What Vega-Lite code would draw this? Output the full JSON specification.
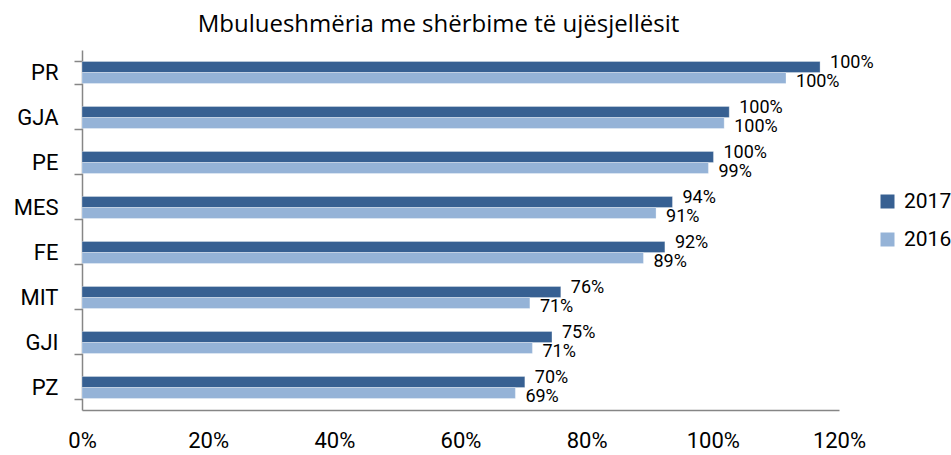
{
  "$schema": "https://vega.github.io/schema/vega-lite/v6.json",
  "width": 757,
  "height": 360,
  "autosize": {"type": "none"},
  "padding": {"left": 82, "top": 50, "right": 112, "bottom": 45},
  "background": "white",
  "title": {
    "text": "Mbulueshmëria me shërbime të ujësjellësit",
    "font": "Open Sans",
    "fontSize": 24,
    "fontWeight": "normal",
    "color": "#000000",
    "anchor": "middle",
    "dx": -22,
    "offset": 2
  },
  "config": {
    "view": {"stroke": null},
    "font": "Roboto"
  },
  "data": {
    "values": [
      {"cat": "PR", "year": "2017", "value": 1.170, "label": "100%"},
      {"cat": "PR", "year": "2016", "value": 1.116, "label": "100%"},
      {"cat": "GJA", "year": "2017", "value": 1.026, "label": "100%"},
      {"cat": "GJA", "year": "2016", "value": 1.018, "label": "100%"},
      {"cat": "PE", "year": "2017", "value": 1.001, "label": "100%"},
      {"cat": "PE", "year": "2016", "value": 0.993, "label": "99%"},
      {"cat": "MES", "year": "2017", "value": 0.936, "label": "94%"},
      {"cat": "MES", "year": "2016", "value": 0.910, "label": "91%"},
      {"cat": "FE", "year": "2017", "value": 0.924, "label": "92%"},
      {"cat": "FE", "year": "2016", "value": 0.890, "label": "89%"},
      {"cat": "MIT", "year": "2017", "value": 0.759, "label": "76%"},
      {"cat": "MIT", "year": "2016", "value": 0.710, "label": "71%"},
      {"cat": "GJI", "year": "2017", "value": 0.745, "label": "75%"},
      {"cat": "GJI", "year": "2016", "value": 0.714, "label": "71%"},
      {"cat": "PZ", "year": "2017", "value": 0.702, "label": "70%"},
      {"cat": "PZ", "year": "2016", "value": 0.687, "label": "69%"}
    ]
  },
  "encoding": {
    "y": {
      "field": "cat",
      "type": "nominal",
      "sort": ["PR", "GJA", "PE", "MES", "FE", "MIT", "GJI", "PZ"],
      "scale": {"paddingInner": 0.51, "paddingOuter": 0.255},
      "axis": {
        "title": null,
        "domainColor": "#868686",
        "domainWidth": 1.5,
        "tickColor": "#868686",
        "tickWidth": 1.5,
        "tickSize": 8,
        "tickBand": "extent",
        "labelPadding": 16,
        "labelFontSize": 22,
        "labelColor": "#000000",
        "labelFont": "Roboto"
      }
    },
    "x": {
      "field": "value",
      "type": "quantitative",
      "scale": {"domain": [0, 1.2], "nice": false},
      "axis": {
        "title": null,
        "format": ".0%",
        "values": [0, 0.2, 0.4, 0.6, 0.8, 1.0, 1.2],
        "grid": false,
        "ticks": false,
        "domainColor": "#868686",
        "domainWidth": 1.5,
        "labelPadding": 20,
        "labelFontSize": 22,
        "labelColor": "#000000",
        "labelFont": "Roboto",
        "labelFlush": false
      }
    },
    "yOffset": {
      "field": "year",
      "type": "nominal",
      "sort": ["2017", "2016"]
    }
  },
  "layer": [
    {
      "mark": {"type": "bar", "stroke": "white", "strokeWidth": 0.5, "strokeOpacity": 0.6},
      "encoding": {
        "color": {
          "field": "year",
          "type": "nominal",
          "sort": ["2017", "2016"],
          "scale": {"domain": ["2017", "2016"], "range": ["#376092", "#95B3D7"]},
          "legend": {
            "title": null,
            "orient": "none",
            "legendX": 795,
            "legendY": 141,
            "symbolType": "square",
            "symbolSize": 196,
            "symbolStrokeWidth": 0,
            "labelFontSize": 21,
            "labelFont": "Roboto",
            "labelColor": "#000000",
            "rowPadding": 16,
            "labelOffset": 6
          }
        }
      }
    },
    {
      "transform": [{"filter": "datum.year == '2017'"}],
      "mark": {
        "type": "text",
        "align": "left",
        "baseline": "middle",
        "dx": 10,
        "dy": -4,
        "fontSize": 18,
        "font": "Roboto",
        "color": "#000000"
      },
      "encoding": {
        "text": {"field": "label"}
      }
    },
    {
      "transform": [{"filter": "datum.year == '2016'"}],
      "mark": {
        "type": "text",
        "align": "left",
        "baseline": "middle",
        "dx": 10,
        "dy": 4,
        "fontSize": 18,
        "font": "Roboto",
        "color": "#000000"
      },
      "encoding": {
        "text": {"field": "label"}
      }
    }
  ]
}
